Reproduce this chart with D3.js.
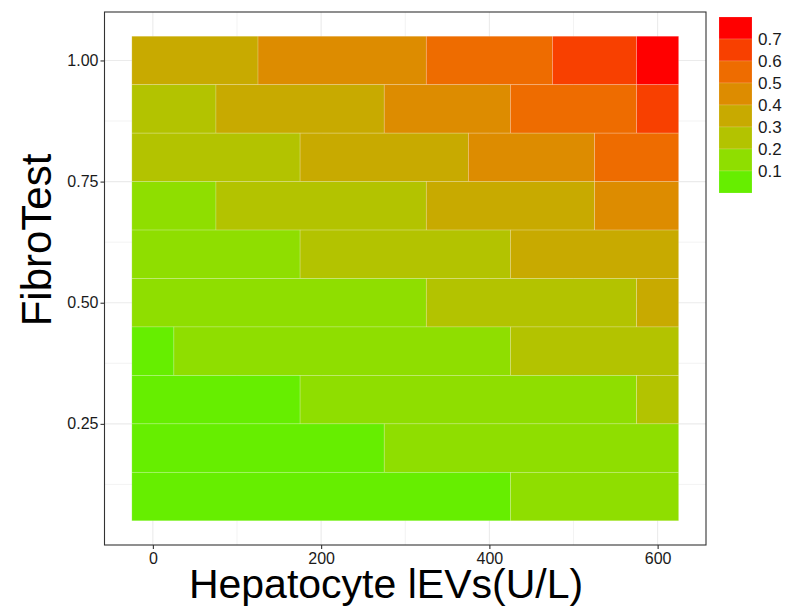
<!DOCTYPE html>
<html>
<head>
<meta charset="utf-8">
<script src="https://cdn.jsdelivr.net/npm/d3@7"></script>
<style>
  html, body { margin: 0; padding: 0; background: #fff; }
  svg { display: block; font-family: "Liberation Sans", Arial, sans-serif; }
</style>
</head>
<body>
<svg id="chart" width="788" height="608"></svg>
<script>
// ---- data ----
const xCenters = [0, 50, 100, 150, 200, 250, 300, 350, 400, 450, 500, 550, 600];
const yCenters = [1.0, 0.9, 0.8, 0.7, 0.6, 0.5, 0.4, 0.3, 0.2, 0.1];
const risk100 = [0.35,0.35,0.35,0.45,0.45,0.45,0.45,0.55,0.55,0.55,0.65,0.65,0.75];
const risk090 = [0.25,0.25,0.35,0.35,0.35,0.35,0.45,0.45,0.45,0.55,0.55,0.55,0.65];
const risk080 = [0.25,0.25,0.25,0.25,0.35,0.35,0.35,0.35,0.45,0.45,0.45,0.55,0.55];
const risk070 = [0.15,0.15,0.25,0.25,0.25,0.25,0.25,0.35,0.35,0.35,0.35,0.45,0.45];
const risk060 = [0.15,0.15,0.15,0.15,0.25,0.25,0.25,0.25,0.25,0.35,0.35,0.35,0.35];
const risk050 = [0.15,0.15,0.15,0.15,0.15,0.15,0.15,0.25,0.25,0.25,0.25,0.25,0.35];
const risk040 = [0.05,0.15,0.15,0.15,0.15,0.15,0.15,0.15,0.15,0.25,0.25,0.25,0.25];
const risk030 = [0.05,0.05,0.05,0.05,0.15,0.15,0.15,0.15,0.15,0.15,0.15,0.15,0.25];
const risk020 = [0.05,0.05,0.05,0.05,0.05,0.05,0.15,0.15,0.15,0.15,0.15,0.15,0.15];
const risk010 = [0.05,0.05,0.05,0.05,0.05,0.05,0.05,0.05,0.05,0.15,0.15,0.15,0.15];
const riskRows = [risk100, risk090, risk080, risk070, risk060, risk050, risk040, risk030, risk020, risk010];

const binBreaks = [0.1, 0.2, 0.3, 0.4, 0.5, 0.6, 0.7];
const binLabels = ["0.1", "0.2", "0.3", "0.4", "0.5", "0.6", "0.7"];
const binColors = ["#66EE00", "#8FDE00", "#B3C300", "#C8AA00", "#DD8C00", "#EE6C00", "#F84000", "#FF0000"];

const xTicks = [0, 200, 400, 600];
const xMinor = [100, 300, 500];
const yTicks = [0.25, 0.5, 0.75, 1.0];
const yTickLabels = ["0.25", "0.50", "0.75", "1.00"];
const yMinor = [0.125, 0.375, 0.625, 0.875];

// ---- layout ----
const svg = d3.select("#chart");
const P = { left: 104.5, right: 706, top: 12, bottom: 545 };

const tileW = xCenters[1] - xCenters[0];
const tileH = Math.abs(yCenters[0] - yCenters[1]);
const xMin = d3.min(xCenters) - tileW / 2, xMax = d3.max(xCenters) + tileW / 2;
const yMin = d3.min(yCenters) - tileH / 2, yMax = d3.max(yCenters) + tileH / 2;
const xPad = (xMax - xMin) * 0.05, yPad = (yMax - yMin) * 0.05;

const x = d3.scaleLinear().domain([xMin - xPad, xMax + xPad]).range([P.left, P.right]);
const y = d3.scaleLinear().domain([yMin - yPad, yMax + yPad]).range([P.bottom, P.top]);
const color = d3.scaleThreshold().domain(binBreaks).range(binColors);

// grid
const grid = svg.append("g");
grid.selectAll(".xmin").data(xMinor).join("line")
  .attr("x1", d => x(d)).attr("x2", d => x(d)).attr("y1", P.top).attr("y2", P.bottom)
  .attr("stroke", "#F0F0F0").attr("stroke-width", 0.8);
grid.selectAll(".ymin").data(yMinor).join("line")
  .attr("y1", d => y(d)).attr("y2", d => y(d)).attr("x1", P.left).attr("x2", P.right)
  .attr("stroke", "#F0F0F0").attr("stroke-width", 0.8);
grid.selectAll(".xmaj").data(xTicks).join("line")
  .attr("x1", d => x(d)).attr("x2", d => x(d)).attr("y1", P.top).attr("y2", P.bottom)
  .attr("stroke", "#EBEBEB").attr("stroke-width", 1.1);
grid.selectAll(".ymaj").data(yTicks).join("line")
  .attr("y1", d => y(d)).attr("y2", d => y(d)).attr("x1", P.left).attr("x2", P.right)
  .attr("stroke", "#EBEBEB").attr("stroke-width", 1.1);

// tiles: merge consecutive same-bin cells per row into runs
const runs = [];
riskRows.forEach((row, ri) => {
  let start = 0;
  for (let i = 1; i <= row.length; i++) {
    if (i === row.length || color(row[i]) !== color(row[start])) {
      runs.push({ y: yCenters[ri], x0: xCenters[start], x1: xCenters[i - 1], v: row[start] });
      start = i;
    }
  }
});
svg.append("g").selectAll("rect").data(runs).join("rect")
  .attr("x", d => x(d.x0 - tileW / 2))
  .attr("width", d => x(d.x1 + tileW / 2) - x(d.x0 - tileW / 2))
  .attr("y", d => y(d.y + tileH / 2))
  .attr("height", d => y(d.y - tileH / 2) - y(d.y + tileH / 2))
  .attr("fill", d => color(d.v))
  .attr("stroke", "rgba(255,255,255,0.28)")
  .attr("stroke-width", 0.7);

// panel border
svg.append("rect")
  .attr("x", P.left).attr("y", P.top)
  .attr("width", P.right - P.left).attr("height", P.bottom - P.top)
  .attr("fill", "none").attr("stroke", "#333333").attr("stroke-width", 1.1);

// axes
const xAxis = svg.append("g").attr("transform", `translate(0,${P.bottom})`)
  .call(d3.axisBottom(x).tickValues(xTicks).tickSize(4).tickPadding(4).tickFormat(d3.format("d")));
const yAxis = svg.append("g").attr("transform", `translate(${P.left},0)`)
  .call(d3.axisLeft(y).tickValues(yTicks).tickSize(4).tickPadding(2)
    .tickFormat((d, i) => yTickLabels[i]));
[xAxis, yAxis].forEach(g => {
  g.select(".domain").remove();
  g.selectAll(".tick line").attr("stroke", "#333333").attr("stroke-width", 1.1);
  g.selectAll(".tick text").attr("fill", "#1a1a1a").style("font-size", "16px")
    .style("font-family", "'Liberation Sans', Arial, sans-serif");
});

// axis titles
svg.append("text")
  .attr("x", 386).attr("y", 598)
  .attr("text-anchor", "middle")
  .style("font-size", "41px").attr("fill", "#000")
  .text("Hepatocyte lEVs(U/L)");
svg.append("text")
  .attr("transform", "translate(51,240) rotate(-90)")
  .attr("text-anchor", "middle")
  .style("font-size", "42px").attr("fill", "#000")
  .text("FibroTest");

// legend (binned colour steps)
const legendTop = 17, keyH = 22, keyX = 719, keyW = 33;
const legendColors = binColors.slice().reverse();
const lg = svg.append("g");
lg.selectAll("rect").data(legendColors).join("rect")
  .attr("x", keyX).attr("y", (d, i) => legendTop + i * keyH)
  .attr("width", keyW).attr("height", keyH)
  .attr("fill", d => d)
  .attr("stroke", "rgba(255,255,255,0.25)").attr("stroke-width", 0.6);
const labelsTopDown = binLabels.slice().reverse();
lg.selectAll("text").data(labelsTopDown).join("text")
  .attr("x", keyX + keyW + 6)
  .attr("y", (d, i) => legendTop + (i + 1) * keyH)
  .attr("dy", "0.36em")
  .style("font-size", "17px").attr("fill", "#1a1a1a")
  .text(d => d);
</script>
</body>
</html>
